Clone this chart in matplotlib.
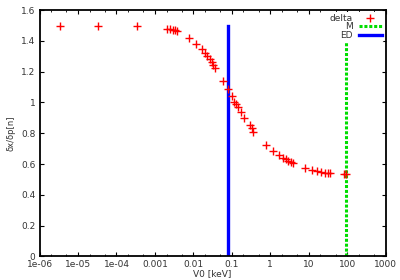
import matplotlib
matplotlib.use("Agg")
import matplotlib.pyplot as plt
from matplotlib.ticker import FixedLocator, FixedFormatter, LogLocator, NullFormatter

# data
v0 = [3.4e-6, 3.4e-5, 3.4e-4, 0.002, 0.00245, 0.0029, 0.0033, 0.0038,
      0.0078, 0.0114, 0.0163, 0.0199, 0.0229, 0.0269, 0.0303, 0.0327, 0.0356,
      0.0596, 0.0789, 0.0987, 0.113, 0.127, 0.141, 0.175, 0.209, 0.294, 0.327, 0.359,
      0.769, 1.19, 1.64, 2.16, 2.55, 2.92, 3.37, 3.94,
      7.94, 11.9, 16.0, 20.7, 26.3, 30.9, 35.5, 85.0, 96.0]
delta = [1.50, 1.50, 1.499, 1.48, 1.475, 1.47, 1.468, 1.465,
         1.417, 1.38, 1.347, 1.319, 1.301, 1.280, 1.262, 1.243, 1.225,
         1.139, 1.085, 1.040, 1.005, 0.988, 0.972, 0.936, 0.899, 0.853, 0.832, 0.810,
         0.723, 0.686, 0.660, 0.641, 0.630, 0.621, 0.615, 0.608,
         0.576, 0.563, 0.556, 0.550, 0.543, 0.541, 0.539, 0.533, 0.533]
ed_x = 0.08
m_x = 96.0
line_top = 1.5
xticks = [1e-6, 1e-5, 1e-4, 1e-3, 1e-2, 1e-1, 1, 10, 100, 1000]
xticklabels = ["1e-06", "1e-05", "1e-04", "0.001", "0.01", "0.1", "1", "10", "100", "1000"]
yticks = [0, 0.2, 0.4, 0.6, 0.8, 1.0, 1.2, 1.4, 1.6]
yticklabels = ["0", "0.2", "0.4", "0.6", "0.8", "1", "1.2", "1.4", "1.6"]

fig = plt.figure(figsize=(4, 2.8), dpi=100)
ax = fig.add_axes([0.099, 0.0846, 0.865, 0.879])
ax.set_xscale("log")
ax.set_xlim(1e-6, 1000)
ax.set_ylim(0, 1.6)

ax.plot(v0, delta, linestyle="none", marker="+", color="#ff0000",
        markersize=6, markeredgewidth=1.0, label="delta", zorder=3)
ax.plot([m_x, m_x], [0, line_top], color="#00dd00", linestyle=(0, (1, 0.6)),
        linewidth=2.2, label="M", zorder=2)
ax.plot([ed_x, ed_x], [0, line_top], color="#0000ff", linewidth=2.4,
        label="ED", zorder=2)

ax.xaxis.set_major_locator(FixedLocator(xticks))
ax.xaxis.set_major_formatter(FixedFormatter(xticklabels))
ax.xaxis.set_minor_locator(LogLocator(base=10, subs=(2, 5), numticks=20))
ax.xaxis.set_minor_formatter(NullFormatter())
ax.yaxis.set_major_locator(FixedLocator(yticks))
ax.yaxis.set_major_formatter(FixedFormatter(yticklabels))

ax.tick_params(which="both", direction="in", top=True, right=True,
               labelsize=6.5, colors="black", labelcolor="#333333", pad=3)
ax.tick_params(which="major", length=3, width=0.8)
ax.tick_params(which="minor", length=1.6, width=0.6)
for s in ax.spines.values():
    s.set_linewidth(1.3)

ax.set_xlabel("V0 [keV]", fontsize=6.5, color="#333333", labelpad=-0.5)
ax.set_ylabel("δx/δp[n]", fontsize=6, color="#333333", labelpad=4)

leg = ax.legend(loc="upper right", markerfirst=False, fontsize=6.5,
                frameon=True, handlelength=2.6, handletextpad=0.6,
                labelspacing=-0.05, borderaxespad=0.2, borderpad=0.2)
leg.get_frame().set_edgecolor("none")
leg.get_frame().set_facecolor("white")
leg.get_frame().set_alpha(1)
for t in leg.get_texts():
    t.set_color("#333333")
leg.set_zorder(5)

fig.savefig("out.png", dpi=100)
